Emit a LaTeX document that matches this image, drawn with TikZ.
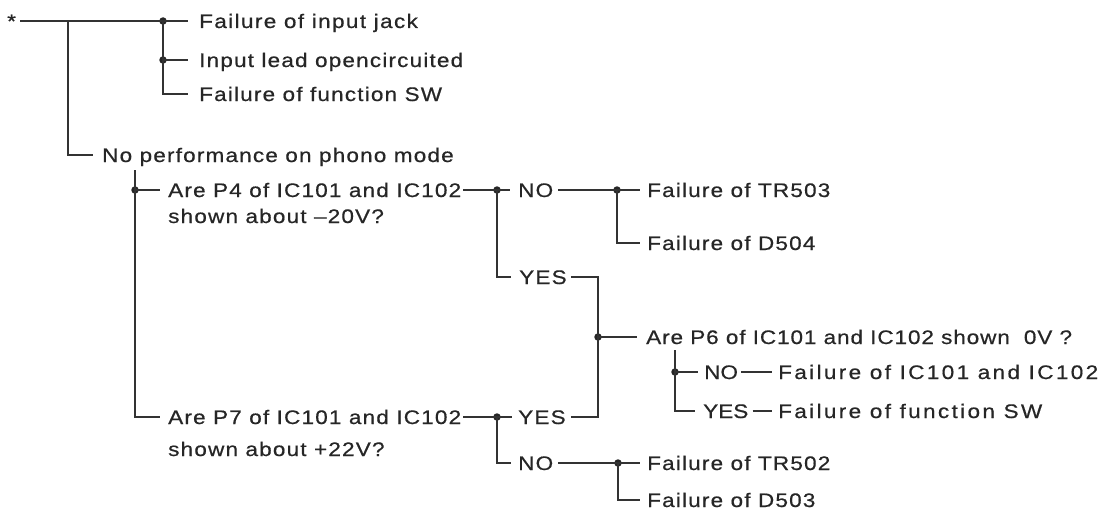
\documentclass[tikz,border=0pt]{standalone}
\usepackage{fontspec}
\setmainfont{Liberation Sans}[LetterSpace=6, FakeStretch=1.15, FakeBold=0.6]
\begin{document}
\begin{tikzpicture}[x=1pt,y=-1pt,
  lab/.style={anchor=west, inner sep=0pt, text height=14pt, text depth=0pt,
    font=\fontsize{19.6}{24}\selectfont, text=black!85},
  track/.style={font=\fontsize{19.6}{24}\selectfont\addfontfeatures{LetterSpace=#1}},
  dot/.style={circle, fill=black!85, inner sep=0pt, minimum size=7.5pt},
  wire/.style={draw=black!80, line width=1.3pt}]
\useasboundingbox (0,0) rectangle (1115,511);
% texts
\node[lab] (star) at (7,21) {*};
\node[lab, track=7] (f1) at (199,21) {Failure of input jack};
\node[lab] (f2) at (199,60) {Input lead opencircuited};
\node[lab] (f3) at (199,94) {Failure of function SW};
\node[lab] (np) at (102,155) {No performance on phono mode};
\node[lab] (p4) at (168,190) {Are P4 of IC101 and IC102};
\node[lab] (p4b) at (168,216) {shown about –20V?};
\node[lab] (p7) at (168,417) {Are P7 of IC101 and IC102};
\node[lab] (p7b) at (168,449) {shown about +22V?};
\node[lab] (no1) at (518,190) {NO};
\node[lab] (tr503) at (647,190) {Failure of TR503};
\node[lab] (d504) at (647,243) {Failure of D504};
\node[lab] (yes1) at (519,277) {YES};
\node[lab, track=4.6] (p6) at (646,337) {Are P6 of IC101 and IC102 shown\hspace{0.35em} 0V ?};
\node[lab, track=0] (no3) at (704,372) {NO};
\node[lab, track=12] (f101) at (778,372) {Failure of IC101 and IC102};
\node[lab, track=0] (yes3) at (703,411) {YES};
\node[lab, track=12] (fsw) at (778,411) {Failure of function SW};
\node[lab] (yes2) at (518,417) {YES};
\node[lab] (no2) at (518,463) {NO};
\node[lab] (tr502) at (647,463) {Failure of TR502};
\node[lab] (d503) at (647,500) {Failure of D503};
% junctions
\coordinate (j0) at (68,21);
\coordinate (vtop) at (135,170);
\coordinate (vt2) at (675,350);
\node[dot] (j1) at (163,21) {};
\node[dot] (j2) at (163,60) {};
\node[dot] (jp) at (135,190) {};
\node[dot] (jq) at (497,190) {};
\node[dot] (jr) at (617,190) {};
\node[dot] (js) at (598,337) {};
\node[dot] (jt) at (675,372) {};
\node[dot] (ju) at (497,417) {};
\node[dot] (jv) at (618,463) {};
% connectors
\path[wire, shorten <=4pt, shorten >=11pt] (star.east) -- (f1.west);
\path[wire, shorten >=9pt] (j0) |- (np.west);
\path[wire, shorten >=11pt] (j1.center) |- (f3.west);
\path[wire, shorten >=11pt] (j2.center) -- (f2.west);
\path[wire, shorten >=8pt] (vtop) |- (p7.west);
\path[wire, shorten >=8pt] (jp.center) -- (p4.west);
\path[wire, shorten <=2pt, shorten >=8pt] (p4.east) -- (no1.west);
\path[wire, shorten >=8pt] (jq.center) |- (yes1.west);
\path[wire, shorten <=5pt, shorten >=7pt] (no1.east) -- (tr503.west);
\path[wire, shorten >=7pt] (jr.center) |- (d504.west);
\path[wire, shorten <=4pt] (yes1.east) -| (js.center);
\path[wire, shorten <=5pt] (yes2.east) -| (js.center);
\path[wire, shorten >=9pt] (js.center) -- (p6.west);
\path[wire, shorten >=8pt] (vt2) |- (yes3.west);
\path[wire, shorten >=6pt] (jt.center) -- (no3.west);
\path[wire, shorten <=3pt, shorten >=6pt] (no3.east) -- (f101.west);
\path[wire, shorten <=4pt, shorten >=6pt] (yes3.east) -- (fsw.west);
\path[wire, shorten <=2pt, shorten >=6pt] (p7.east) -- (yes2.west);
\path[wire, shorten >=7pt] (ju.center) |- (no2.west);
\path[wire, shorten <=5pt, shorten >=7pt] (no2.east) -- (tr502.west);
\path[wire, shorten >=7pt] (jv.center) |- (d503.west);
\end{tikzpicture}
\end{document}
